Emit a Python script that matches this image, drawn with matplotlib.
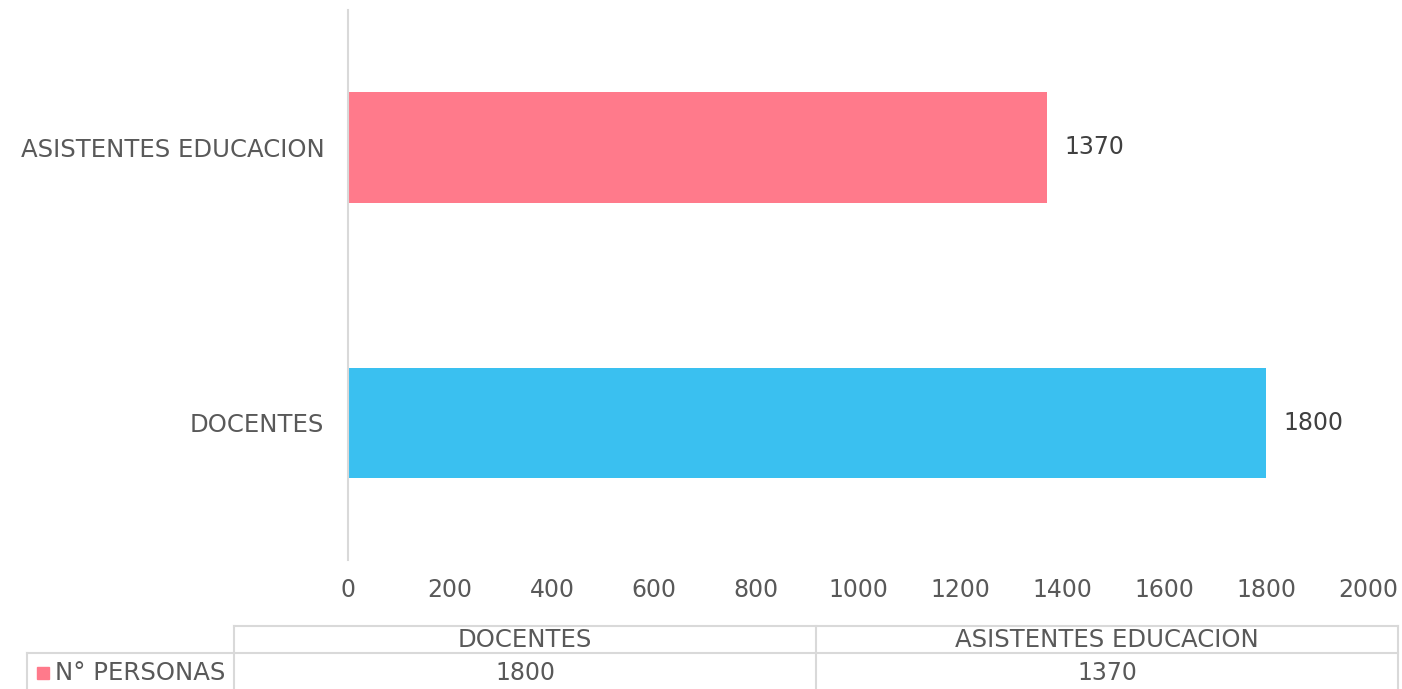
import matplotlib.pyplot as plt
from matplotlib.lines import Line2D
from matplotlib.patches import Rectangle

categories = ['DOCENTES', 'ASISTENTES EDUCACION']
values = [1800, 1370]
bar_colors = ['#3AC0F0', '#FF7A8B']
series_name = 'N° PERSONAS'
x_ticks = [0, 200, 400, 600, 800, 1000, 1200, 1400, 1600, 1800, 2000]

W, H = 1402, 689
TEXT = '#595959'
GRID = '#D9D9D9'
WORD_SIZE = 17.6
NUM_SIZE = 17

plt.rcParams['font.family'] = 'DejaVu Sans'


def fx(px):
    return px / W


def fy(py):
    return 1 - py / H


fig = plt.figure(figsize=(W / 100, H / 100), dpi=100)
ax = fig.add_axes([fx(348), fy(560), fx(1368) - fx(348), fy(10) - fy(560)])

ypos = list(range(len(categories)))
ax.barh(ypos, values, height=0.40, color=bar_colors)
for y, v in zip(ypos, values):
    ax.text(v + 35, y, str(v), va='center', ha='left', fontsize=NUM_SIZE, color='#404040')

ax.set_xlim(0, 2000)
ax.set_ylim(-0.5, 1.5)
ax.set_xticks(x_ticks)
ax.set_yticks(ypos)
ax.set_yticklabels(categories)
ax.tick_params(axis='both', length=0, labelcolor=TEXT)
ax.tick_params(axis='x', labelsize=NUM_SIZE, pad=13)
ax.tick_params(axis='y', labelsize=WORD_SIZE, pad=17)
for side in ['top', 'right', 'bottom']:
    ax.spines[side].set_visible(False)
ax.spines['left'].set_color(GRID)
ax.spines['left'].set_linewidth(1.5)

# data table below the chart
col_edges = [234, 816, 1398]
row_top, row_mid, row_bot = 626, 653, 689
lines = [
    ((col_edges[0], col_edges[-1]), (row_top, row_top)),
    ((27, col_edges[-1]), (row_mid, row_mid)),
    ((27, 27), (row_mid, row_bot)),
]
for x in col_edges:
    lines.append(((x, x), (row_top, row_bot)))
for xs, ys in lines:
    fig.add_artist(Line2D([fx(xs[0]), fx(xs[1])], [fy(ys[0]), fy(ys[1])],
                          transform=fig.transFigure, color=GRID, linewidth=1.5))

for i, (cat, v) in enumerate(zip(categories, values)):
    cx = (col_edges[i] + col_edges[i + 1]) / 2
    fig.text(fx(cx), fy(640), cat, ha='center', va='center', fontsize=WORD_SIZE, color=TEXT)
    fig.text(fx(cx), fy(673), str(v), ha='center', va='center', fontsize=NUM_SIZE, color=TEXT)

fig.add_artist(Rectangle((fx(37), fy(679)), fx(12), fy(667) - fy(679),
                         transform=fig.transFigure, color=bar_colors[1]))
fig.text(fx(55), fy(673), series_name, ha='left', va='center', fontsize=WORD_SIZE, color=TEXT)

plt.savefig('out.png', dpi=100)
plt.close()
